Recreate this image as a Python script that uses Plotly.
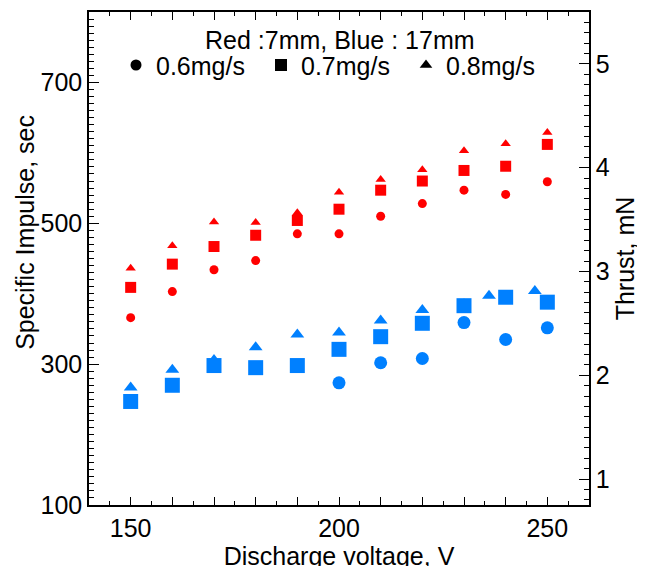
import plotly.graph_objects as go

# Discharge voltages (V)
volt = [150, 160, 170, 180, 190, 200, 210, 220, 230, 240, 250]
volt_blue_tri = [150, 160, 170, 180, 190, 200, 210, 220, 230, 236, 247]
volt_blue_circ = [200, 210, 220, 230, 240, 250]

# Red : 7mm
red_06 = [366, 403, 434, 447, 485, 485, 510, 528, 547, 541, 559]
red_07 = [409, 442, 467, 483, 504, 520, 547, 560, 575, 581, 612]
red_08 = [436, 468, 502, 501, 515, 544, 562, 576, 603, 613, 629]

# Blue : 17mm
blue_06 = [273.5, 302, 308, 359, 335, 351.5]
blue_07 = [247, 270, 298, 295, 298, 321, 339, 358, 383, 395, 388]
blue_08 = [267, 292, 306, 324, 342, 345, 362, 377, 385, 397, 404]

x_ticks = list(range(140, 261, 10))
x_ticktext = [str(v) if v in (150, 200, 250) else "" for v in x_ticks]
y_ticks = [100, 300, 500, 700]
y2_ticks = [1, 2, 3, 4, 5]

RED = "#FF0000"
BLUE = "#0080FF"
FONT = "Liberation Sans, Arial, sans-serif"
FS = 25

fig = go.Figure()

def add(x, y, color, symbol, size):
    fig.add_trace(go.Scatter(x=x, y=y, mode="markers", showlegend=False,
                             marker=dict(color=color, symbol=symbol, size=size,
                                         line=dict(width=0))))

# draw order: triangles, squares, circles
add(volt, red_08, RED, "triangle-up", 9)
add(volt_blue_tri, blue_08, BLUE, "triangle-up", 12)
add(volt, red_07, RED, "square", 11)
add(volt, blue_07, BLUE, "square", 15)
add(volt, red_06, RED, "circle", 9)
add(volt_blue_circ, blue_06, BLUE, "circle", 13)

# legend entries
for name, sym, sz in [("0.6mg/s", "circle", 11), ("0.7mg/s", "square", 12),
                      ("0.8mg/s", "triangle-up", 11)]:
    fig.add_trace(go.Scatter(x=[None], y=[None], mode="markers", name=name,
                             marker=dict(color="black", symbol=sym, size=sz)))

axis_common = dict(showline=True, linecolor="black", linewidth=1.5,
                   ticks="inside", tickcolor="black", tickwidth=1,
                   showgrid=False, zeroline=False, automargin=False,
                   tickfont=dict(family=FONT, size=FS, color="black"))

fig.update_layout(
    width=645, height=566,
    margin=dict(l=81, r=64, t=4, b=69),
    paper_bgcolor="white", plot_bgcolor="white",
    font=dict(family=FONT, size=FS, color="black"),
    xaxis=dict(range=[140, 260], tickmode="array", tickvals=x_ticks,
               ticktext=x_ticktext, ticklen=8, mirror="ticks",
               minor=dict(tickmode="linear", tick0=140, dtick=5, ticklen=4,
                          ticks="inside", tickcolor="black"),
               title=dict(text="Discharge voltage, V", standoff=7,
                          font=dict(family=FONT, size=FS)),
               **axis_common),
    yaxis=dict(range=[100, 800], tickmode="array", tickvals=y_ticks,
               ticklen=10,
               minor=dict(tickmode="linear", tick0=100, dtick=10, ticklen=5,
                          ticks="inside", tickcolor="black"),
               **axis_common),
    yaxis2=dict(range=[0.75, 5.5], overlaying="y", side="right",
                tickmode="array", tickvals=y2_ticks, ticklen=10,
                minor=dict(tickmode="linear", tick0=0, dtick=0.1, ticklen=5,
                           ticks="inside", tickcolor="black"),
                title=dict(text="Thrust, mN", standoff=8,
                           font=dict(family=FONT, size=FS)),
                **axis_common),
    legend=dict(orientation="h", x=0.054, xanchor="left", y=0.892,
                yanchor="middle", bgcolor="rgba(0,0,0,0)",
                entrywidth=100, entrywidthmode="pixels",
                font=dict(family=FONT, size=FS, color="black")),
    annotations=[
        dict(text="Red :7mm, Blue : 17mm", x=0.502, y=0.944,
             xref="paper", yref="paper", showarrow=False,
             xanchor="center", yanchor="middle",
             font=dict(family=FONT, size=FS, color="black")),
        dict(text="Specific Impulse, sec", x=-0.128, y=0.552,
             xref="paper", yref="paper", showarrow=False, textangle=-90,
             xanchor="center", yanchor="middle",
             font=dict(family=FONT, size=FS, color="black")),
    ],
)

# a hidden trace so the right axis is attached to data
fig.add_trace(go.Scatter(x=[None], y=[None], yaxis="y2", showlegend=False,
                         hoverinfo="skip"))

fig.write_html("out.html")
